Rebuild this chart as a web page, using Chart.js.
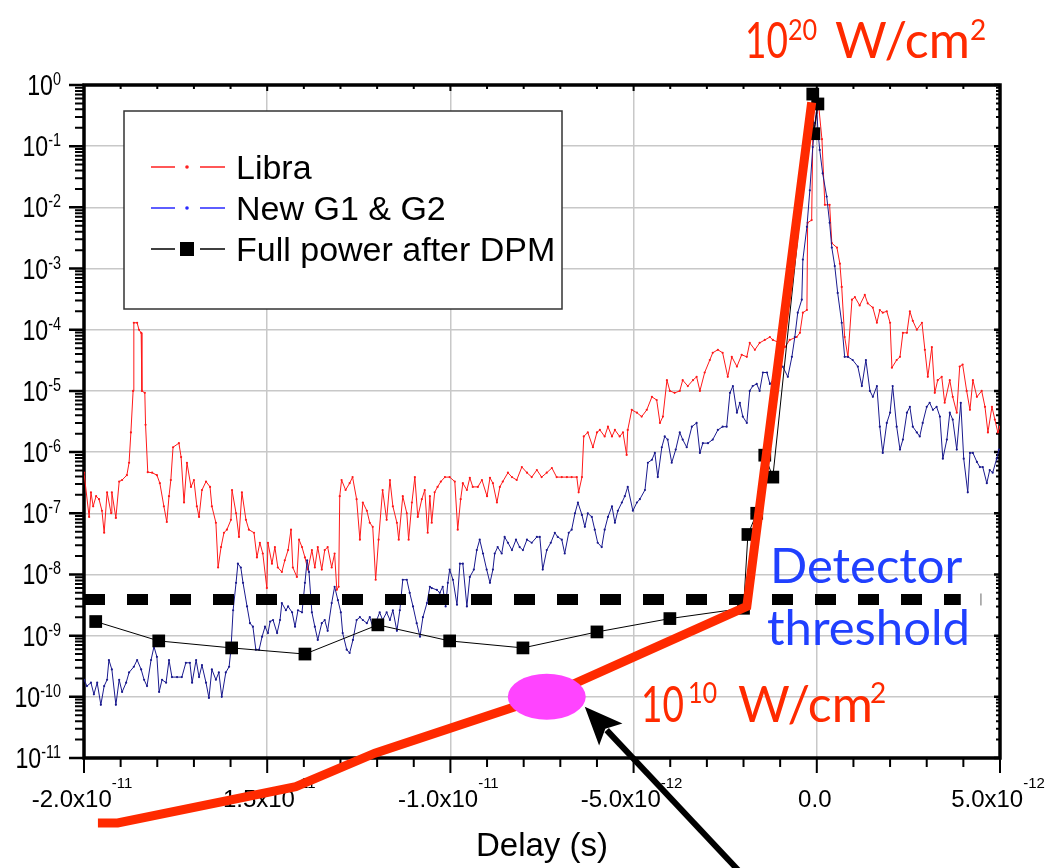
<!DOCTYPE html>
<html>
<head>
<meta charset="utf-8">
<script src="https://cdn.jsdelivr.net/npm/chart.js@4.4.1/dist/chart.umd.min.js"></script>
<style>
  html, body { margin: 0; padding: 0; background: #fff; }
  #wrap { width: 1055px; height: 868px; }
</style>
</head>
<body>
<div id="wrap"><canvas id="delay-chart" width="1055" height="868"></canvas></div>
<script>
// delays are in ps (axis labels show seconds), signals are normalised
var seriesNames = ['Libra', 'New G1 & G2', 'Full power after DPM'];

var libraDelay = [-20.00, -19.86, -19.81, -19.75, -19.67, -19.59, -19.51, -19.45, -19.37, -19.26, -19.24, -19.13, -19.04, -18.96, -18.83, -18.77, -18.72, -18.66, -18.64, -18.55, -18.50, -18.44, -18.42, -18.34, -18.32, -18.26, -18.14, -18.01, -17.93, -17.82, -17.74, -17.68, -17.63, -17.57, -17.41, -17.35, -17.27, -17.19, -17.08, -17.00, -16.92, -16.86, -16.78, -16.67, -16.56, -16.51, -16.40, -16.34, -16.26, -16.18, -16.10, -15.99, -15.96, -15.85, -15.77, -15.69, -15.58, -15.50, -15.36, -15.28, -15.20, -15.12, -15.01, -14.98, -14.87, -14.79, -14.71, -14.60, -14.52, -14.43, -14.35, -14.30, -14.19, -14.13, -14.05, -13.97, -13.89, -13.78, -13.70, -13.62, -13.51, -13.43, -13.35, -13.24, -13.16, -13.10, -13.05, -13.02, -12.97, -12.86, -12.75, -12.67, -12.56, -12.47, -12.39, -12.28, -12.20, -12.12, -12.04, -11.96, -11.85, -11.74, -11.65, -11.57, -11.46, -11.41, -11.30, -11.19, -11.14, -11.05, -10.97, -10.89, -10.78, -10.70, -10.62, -10.56, -10.51, -10.43, -10.35, -10.26, -10.15, -10.02, -9.88, -9.80, -9.72, -9.66, -9.55, -9.47, -9.39, -9.25, -9.14, -9.00, -8.92, -8.84, -8.73, -8.65, -8.57, -8.43, -8.32, -8.19, -8.05, -7.91, -7.78, -7.64, -7.51, -7.37, -7.23, -7.10, -6.96, -6.82, -6.69, -6.55, -6.50, -6.41, -6.36, -6.25, -6.11, -6.00, -5.92, -5.79, -5.70, -5.59, -5.51, -5.38, -5.29, -5.19, -5.16, -5.05, -4.91, -4.78, -4.64, -4.50, -4.37, -4.28, -4.20, -4.09, -4.01, -3.88, -3.74, -3.66, -3.52, -3.38, -3.28, -3.19, -3.06, -2.92, -2.84, -2.70, -2.57, -2.43, -2.32, -2.18, -2.05, -1.91, -1.83, -1.69, -1.56, -1.42, -1.28, -1.20, -1.01, -0.87, -0.74, -0.55, -0.46, -0.38, -0.27, -0.25, -0.14, -0.11, 0.00, 0.05, 0.14, 0.22, 0.35, 0.41, 0.55, 0.63, 0.68, 0.76, 0.85, 0.96, 1.04, 1.17, 1.31, 1.39, 1.53, 1.64, 1.72, 1.80, 1.91, 2.00, 2.05, 2.18, 2.27, 2.35, 2.46, 2.54, 2.62, 2.73, 2.87, 2.95, 3.03, 3.14, 3.22, 3.30, 3.41, 3.49, 3.63, 3.71, 3.82, 3.90, 3.98, 4.09, 4.18, 4.26, 4.37, 4.50, 4.59, 4.67, 4.78, 4.86, 4.94, 5.00];
var libraSignal = [4.6e-7, 8.7e-8, 2.2e-7, 1.3e-7, 1.9e-7, 1.7e-7, 1.1e-7, 4.8e-8, 2.2e-7, 1.0e-7, 2.2e-7, 8.4e-8, 3.3e-7, 3.5e-7, 4.2e-7, 6.7e-7, 2.1e-6, 1.0e-5, 1.3e-4, 1.3e-4, 1.0e-4, 8.9e-5, 1.0e-5, 9.3e-6, 2.8e-6, 4.7e-7, 4.6e-7, 4.2e-7, 3.1e-7, 1.3e-7, 7.2e-8, 1.9e-7, 3.5e-7, 1.2e-6, 1.4e-6, 8.3e-7, 1.5e-7, 6.7e-7, 2.7e-7, 3.5e-7, 1.3e-7, 8.7e-8, 2.4e-7, 3.3e-7, 2.7e-7, 1.3e-7, 7.0e-8, 1.3e-8, 2.8e-8, 4.8e-8, 5.4e-8, 7.8e-8, 2.4e-7, 1.0e-7, 4.1e-8, 2.2e-7, 7.8e-8, 5.4e-8, 4.8e-8, 1.9e-8, 3.3e-8, 2.2e-8, 6.0e-9, 3.3e-8, 1.5e-8, 2.8e-8, 1.3e-8, 1.1e-8, 1.7e-8, 2.5e-8, 5.4e-8, 1.3e-8, 9.1e-9, 3.7e-8, 2.8e-8, 1.9e-8, 1.2e-8, 2.5e-8, 1.3e-8, 2.8e-8, 1.2e-8, 2.5e-8, 2.8e-8, 1.3e-8, 2.2e-8, 5.6e-9, 6.3e-9, 1.9e-7, 3.5e-7, 2.4e-7, 3.1e-7, 3.9e-7, 1.7e-7, 3.7e-8, 1.5e-7, 1.1e-7, 7.0e-8, 6.0e-8, 8.2e-9, 3.7e-8, 2.4e-7, 7.8e-8, 3.5e-7, 1.3e-7, 7.0e-8, 3.7e-8, 1.9e-7, 1.0e-7, 3.7e-8, 1.5e-7, 3.9e-7, 8.7e-8, 1.7e-7, 2.4e-7, 4.8e-8, 1.9e-7, 7.0e-8, 2.2e-7, 2.7e-7, 3.3e-7, 3.9e-7, 3.9e-7, 3.3e-7, 5.4e-8, 1.7e-7, 3.1e-7, 2.4e-7, 3.8e-7, 2.7e-7, 2.7e-7, 3.5e-7, 1.9e-7, 3.8e-7, 3.1e-7, 1.5e-7, 2.7e-7, 3.3e-7, 4.6e-7, 3.9e-7, 3.5e-7, 5.7e-7, 4.6e-7, 3.9e-7, 5.1e-7, 3.9e-7, 4.6e-7, 5.5e-7, 3.9e-7, 3.9e-7, 3.9e-7, 3.9e-7, 3.9e-7, 2.2e-7, 3.9e-7, 1.8e-6, 2.1e-6, 1.2e-6, 2.1e-6, 2.3e-6, 1.8e-6, 2.6e-6, 1.8e-6, 2.3e-6, 1.8e-6, 2.1e-6, 9.0e-7, 2.3e-6, 4.9e-6, 4.4e-6, 3.8e-6, 4.9e-6, 8.0e-6, 7.1e-6, 3.0e-6, 3.8e-6, 1.5e-5, 1.0e-5, 9.3e-6, 1.0e-5, 1.5e-5, 1.2e-5, 1.5e-5, 1.7e-5, 1.0e-5, 2.0e-5, 3.2e-5, 4.2e-5, 4.7e-5, 4.2e-5, 1.7e-5, 3.6e-5, 2.5e-5, 3.9e-5, 3.6e-5, 6.1e-5, 4.7e-5, 6.1e-5, 6.8e-5, 7.6e-5, 6.8e-5, 6.1e-5, 5.2e-5, 6.8e-5, 7.6e-5, 8.9e-5, 1.9e-4, 2.1e-4, 5.6e-3, 6.2e-3, 1.3e-1, 0.35, 0.47, 0.13, 1.1e-2, 1.1e-2, 2.6e-3, 2.2e-3, 1.2e-3, 5.0e-4, 7.6e-5, 3.6e-5, 3.1e-4, 3.4e-4, 2.5e-4, 3.7e-4, 2.7e-4, 2.3e-4, 1.3e-4, 2.1e-4, 1.9e-4, 2.0e-4, 1.3e-4, 2.4e-5, 3.2e-5, 3.6e-5, 8.9e-5, 8.9e-5, 2.0e-4, 1.4e-4, 1.0e-4, 1.3e-4, 4.7e-5, 1.7e-5, 5.2e-5, 9.3e-6, 1.5e-5, 1.7e-5, 6.4e-6, 1.5e-5, 8.0e-6, 4.4e-6, 2.5e-5, 2.7e-5, 1.0e-5, 4.9e-6, 1.5e-5, 8.0e-6, 1.0e-5, 5.5e-6, 2.1e-6, 5.5e-6, 3.4e-6, 2.1e-6, 2.6e-6];

var g12Delay = [-20.00, -19.92, -19.81, -19.73, -19.64, -19.54, -19.45, -19.37, -19.32, -19.24, -19.13, -19.04, -18.96, -18.85, -18.77, -18.64, -18.55, -18.44, -18.36, -18.28, -18.17, -18.09, -18.01, -17.95, -17.87, -17.76, -17.68, -17.60, -17.46, -17.33, -17.22, -17.11, -17.05, -16.94, -16.86, -16.78, -16.67, -16.59, -16.51, -16.40, -16.32, -16.24, -16.13, -16.04, -15.99, -15.93, -15.85, -15.80, -15.72, -15.66, -15.55, -15.47, -15.39, -15.31, -15.22, -15.14, -15.06, -14.98, -14.92, -14.84, -14.73, -14.65, -14.60, -14.49, -14.43, -14.32, -14.24, -14.16, -14.05, -13.97, -13.91, -13.86, -13.78, -13.70, -13.62, -13.51, -13.43, -13.35, -13.24, -13.16, -13.07, -12.99, -12.94, -12.83, -12.75, -12.66, -12.56, -12.47, -12.39, -12.28, -12.20, -12.12, -12.01, -11.93, -11.85, -11.74, -11.65, -11.57, -11.46, -11.38, -11.30, -11.19, -11.11, -11.02, -10.92, -10.83, -10.75, -10.64, -10.56, -10.51, -10.37, -10.29, -10.21, -10.13, -10.07, -10.02, -9.93, -9.82, -9.74, -9.66, -9.55, -9.47, -9.36, -9.28, -9.20, -9.11, -9.01, -8.92, -8.84, -8.79, -8.71, -8.60, -8.52, -8.43, -8.32, -8.21, -8.11, -8.02, -7.91, -7.78, -7.64, -7.56, -7.48, -7.37, -7.26, -7.15, -7.07, -6.96, -6.88, -6.77, -6.69, -6.60, -6.52, -6.41, -6.33, -6.25, -6.14, -6.06, -5.98, -5.87, -5.79, -5.70, -5.59, -5.51, -5.43, -5.32, -5.24, -5.16, -5.02, -4.91, -4.83, -4.69, -4.61, -4.50, -4.42, -4.34, -4.23, -4.15, -4.07, -3.96, -3.85, -3.74, -3.66, -3.55, -3.41, -3.28, -3.19, -3.11, -2.97, -2.84, -2.70, -2.57, -2.46, -2.37, -2.29, -2.18, -2.10, -2.02, -1.91, -1.83, -1.75, -1.64, -1.56, -1.47, -1.36, -1.28, -1.20, -1.06, -0.93, -0.79, -0.68, -0.60, -0.52, -0.41, -0.38, -0.27, -0.19, -0.11, -0.05, 0.00, 0.03, 0.08, 0.16, 0.27, 0.35, 0.41, 0.49, 0.57, 0.68, 0.76, 0.85, 0.98, 1.12, 1.23, 1.34, 1.45, 1.53, 1.64, 1.72, 1.80, 1.91, 2.00, 2.07, 2.18, 2.27, 2.35, 2.46, 2.54, 2.62, 2.73, 2.81, 2.89, 3.00, 3.08, 3.17, 3.27, 3.36, 3.44, 3.55, 3.63, 3.71, 3.82, 3.93, 4.01, 4.12, 4.18, 4.26, 4.37, 4.45, 4.53, 4.64, 4.72, 4.80, 4.91, 4.97];
var g12Signal = [1.9e-10, 1.5e-10, 1.7e-10, 1.1e-10, 1.7e-10, 7.4e-11, 1.5e-10, 1.9e-10, 4.0e-10, 2.8e-10, 7.4e-11, 1.9e-10, 1.2e-10, 1.7e-10, 2.5e-10, 3.1e-10, 4.0e-10, 2.8e-10, 1.9e-10, 1.5e-10, 4.0e-10, 6.6e-10, 4.5e-10, 1.2e-10, 1.9e-10, 1.7e-10, 4.0e-10, 2.1e-10, 2.1e-10, 2.1e-10, 3.6e-10, 3.6e-10, 1.7e-10, 4.0e-10, 2.1e-10, 3.3e-10, 1.7e-10, 9.6e-11, 2.8e-10, 1.9e-10, 2.5e-10, 1.0e-10, 2.5e-10, 3.1e-10, 5.9e-10, 2.6e-9, 7.3e-9, 1.5e-8, 1.3e-8, 7.3e-9, 3.0e-9, 1.6e-9, 1.4e-9, 5.9e-10, 5.9e-10, 9.6e-10, 1.4e-9, 1.1e-9, 1.7e-9, 1.8e-9, 1.1e-9, 1.8e-9, 3.4e-9, 2.6e-9, 3.0e-9, 2.4e-9, 1.4e-9, 2.6e-9, 2.4e-9, 7.3e-9, 1.7e-8, 1.1e-8, 2.4e-9, 1.4e-9, 8.5e-10, 1.6e-9, 1.8e-9, 1.2e-9, 3.4e-9, 6.3e-9, 3.8e-9, 2.4e-9, 1.1e-9, 5.9e-10, 5.2e-10, 8.5e-10, 1.8e-9, 2.0e-9, 1.8e-9, 1.6e-9, 2.0e-9, 1.4e-9, 1.8e-9, 2.4e-9, 1.8e-9, 2.4e-9, 1.8e-9, 2.6e-9, 1.2e-9, 2.6e-9, 8.2e-9, 8.2e-9, 5.0e-9, 3.0e-9, 1.6e-9, 9.6e-10, 2.0e-9, 3.4e-9, 6.3e-9, 6.0e-9, 5.6e-9, 5.0e-9, 6.3e-9, 3.0e-9, 7.3e-9, 1.2e-8, 8.2e-9, 3.2e-9, 1.5e-8, 1.5e-8, 3.0e-9, 9.1e-9, 1.2e-8, 2.5e-8, 3.7e-8, 2.2e-8, 1.2e-8, 7.3e-9, 1.2e-8, 2.2e-8, 2.8e-8, 2.2e-8, 4.1e-8, 3.3e-8, 2.5e-8, 3.7e-8, 2.8e-8, 2.5e-8, 3.7e-8, 3.3e-8, 4.1e-8, 4.1e-8, 1.2e-8, 2.5e-8, 3.3e-8, 4.8e-8, 4.1e-8, 3.7e-8, 2.2e-8, 4.8e-8, 5.4e-8, 1.0e-7, 1.5e-7, 9.4e-8, 6.0e-8, 1.0e-7, 8.7e-8, 5.4e-8, 3.3e-8, 2.8e-8, 5.4e-8, 8.7e-8, 1.3e-7, 7.0e-8, 1.1e-7, 1.5e-7, 1.9e-7, 2.7e-7, 1.1e-7, 1.5e-7, 1.7e-7, 2.4e-7, 6.7e-7, 7.5e-7, 9.7e-7, 3.9e-7, 1.2e-6, 1.8e-6, 1.6e-6, 6.7e-7, 1.1e-6, 2.1e-6, 1.6e-6, 1.2e-6, 2.6e-6, 3.0e-6, 9.7e-7, 1.4e-6, 1.4e-6, 1.6e-6, 2.3e-6, 2.6e-6, 2.6e-6, 9.3e-6, 1.2e-5, 4.4e-6, 6.4e-6, 3.8e-6, 3.0e-6, 1.0e-5, 1.2e-5, 1.3e-5, 1.0e-5, 2.0e-5, 2.0e-5, 1.3e-5, 1.5e-5, 2.2e-5, 2.5e-5, 1.7e-5, 3.6e-5, 7.6e-5, 1.9e-4, 3.1e-4, 1.4e-3, 4.8e-3, 1.9e-2, 9.7e-2, 0.24, 0.42, 0.18, 8.7e-2, 3.6e-2, 1.5e-2, 5.6e-3, 2.2e-3, 1.1e-3, 4.0e-4, 1.3e-4, 3.6e-5, 3.6e-5, 3.2e-5, 2.5e-5, 1.2e-5, 3.2e-5, 1.0e-5, 8.0e-6, 1.2e-5, 2.6e-6, 9.7e-7, 3.0e-6, 4.4e-6, 1.2e-5, 2.6e-6, 1.1e-6, 1.6e-6, 4.4e-6, 5.5e-6, 2.6e-6, 2.1e-6, 1.8e-6, 3.0e-6, 5.5e-6, 6.4e-6, 4.9e-6, 5.5e-6, 3.8e-6, 7.8e-7, 1.6e-6, 4.4e-6, 3.4e-6, 1.1e-6, 6.4e-6, 7.8e-7, 2.2e-7, 9.7e-7, 9.7e-7, 6.9e-7, 5.7e-7, 5.7e-7, 3.1e-7, 5.1e-7, 4.6e-7, 7.8e-7, 1.1e-6];

var dpmDelay = [-19.68, -17.96, -15.97, -13.97, -11.98, -10.02, -8.02, -6.00, -4.01, -2.00, -1.88, -1.64, -1.42, -1.20, -0.11, -0.08, 0.03];
var dpmSignal = [1.7e-9, 8.2e-10, 6.3e-10, 5.0e-10, 1.5e-9, 8.2e-10, 6.3e-10, 1.15e-9, 1.9e-9, 2.8e-9, 4.5e-8, 1.0e-7, 8.9e-7, 3.9e-7, 0.71, 0.16, 0.49];

// thick red guide: intensity on target
var intensityDelay = [-19.62, -19.08, -14.22, -12.06, -7.42, -1.91, -0.14];
var intensityLevel = [8.7e-13, 8.7e-13, 3.4e-12, 1.2e-11, 1.0e-10, 3.0e-9, 0.52];

var thresholdDelay = [-20, 3.93];
var thresholdLevel = [3.9e-9, 3.9e-9];
var thresholdEnd = [4.48, 3.9e-9];

var markDelay = -7.37, markLevel = 1.0e-10;

var yTickValues = [1, 1e-1, 1e-2, 1e-3, 1e-4, 1e-5, 1e-6, 1e-7, 1e-8, 1e-9, 1e-10, 1e-11];
var yTickExps = ['0', '-1', '-2', '-3', '-4', '-5', '-6', '-7', '-8', '-9', '-10', '-11'];
var xTickValues = [-20, -15, -10, -5, 0, 5];
var xTickBases = ['-2.0x10', '-1.5x10', '-1.0x10', '-5.0x10', '0.0', '5.0x10'];
var xTickExps = ['-11', '-11', '-11', '-12', '', '-12'];

function pairs(xs, ys) {
    return xs.map(function (x, i) { return { x: x, y: ys[i] }; });
}

var AXIS_FONT = '"Liberation Sans", Arial, sans-serif';
var NOTE_FONT = 'Lato, "Open Sans", sans-serif';
var RED = '#ff2a00';

function drawPower(ctx, base, exp, x, y, align, st) {
    ctx.font = st.size + 'px ' + AXIS_FONT;
    var w1 = ctx.measureText(base).width * st.sx;
    ctx.font = st.supSize + 'px ' + AXIS_FONT;
    var w2 = exp ? ctx.measureText(exp).width * st.sx : 0;
    var left = align === 'right' ? x - w1 - w2 : x - (w1 + w2) / 2;
    ctx.save();
    ctx.translate(left, y + st.baseDy);
    ctx.scale(st.sx, 1);
    ctx.font = st.size + 'px ' + AXIS_FONT;
    ctx.fillText(base, 0, 0);
    ctx.restore();
    if (exp) {
        ctx.save();
        ctx.translate(left + w1, y + st.supDy);
        ctx.scale(st.sx, 1);
        ctx.font = st.supSize + 'px ' + AXIS_FONT;
        ctx.fillText(exp, 0, 0);
        ctx.restore();
    }
}

function drawNote(ctx, pieces, color) {
    ctx.fillStyle = color;
    pieces.forEach(function (p) {
        ctx.save();
        ctx.translate(p.x, p.y);
        ctx.scale(p.sx || 1, 1);
        ctx.font = p.size + 'px ' + NOTE_FONT;
        ctx.fillText(p.t, 0, 0);
        ctx.restore();
    });
}

var figureDecor = {
    id: 'figureDecor',
    beforeDatasetsDraw: function (chart) {
        var ctx = chart.ctx, a = chart.chartArea;
        var xs = chart.scales.x, ys = chart.scales.y;
        ctx.save();
        ctx.strokeStyle = '#000';
        ctx.fillStyle = '#000';
        ctx.textAlign = 'left';
        ctx.textBaseline = 'alphabetic';

        // bottom ticks (out) and top ticks (in)
        for (var v = -20; v <= 5; v++) {
            var px = xs.getPixelForValue(v);
            var major = v % 5 === 0;
            ctx.lineWidth = 2;
            ctx.beginPath();
            ctx.moveTo(px, a.bottom);
            ctx.lineTo(px, a.bottom + (major ? 15 : 9));
            ctx.moveTo(px, a.top);
            ctx.lineTo(px, a.top + (major ? 6 : 4));
            ctx.stroke();
        }
        // left ticks (out) and right ticks (in)
        yTickValues.forEach(function (d, i) {
            var py = ys.getPixelForValue(d);
            ctx.lineWidth = 2.5;
            ctx.beginPath();
            ctx.moveTo(a.left, py);
            ctx.lineTo(a.left - 15, py);
            ctx.moveTo(a.right, py);
            ctx.lineTo(a.right - 6, py);
            ctx.stroke();
            if (i === yTickValues.length - 1) return;
            ctx.lineWidth = 2;
            for (var k = 2; k <= 9; k++) {
                var mp = ys.getPixelForValue(k * d / 10);
                ctx.beginPath();
                ctx.moveTo(a.left, mp);
                ctx.lineTo(a.left - 9, mp);
                ctx.moveTo(a.right, mp);
                ctx.lineTo(a.right - 4, mp);
                ctx.stroke();
            }
        });

        // frame
        ctx.lineWidth = 3.5;
        ctx.strokeRect(a.left, a.top, a.right - a.left, a.bottom - a.top);

        // tick labels
        var yStyle = { size: 29, supSize: 18, sx: 0.8, baseDy: 10, supDy: 0 };
        yTickValues.forEach(function (d, i) {
            drawPower(ctx, '10', yTickExps[i], a.left - 23, ys.getPixelForValue(d), 'right', yStyle);
        });
        var xStyle = { size: 24, supSize: 15, sx: 1, baseDy: 49, supDy: 30 };
        xTickValues.forEach(function (d, i) {
            drawPower(ctx, xTickBases[i], xTickExps[i], xs.getPixelForValue(d) - 2, a.bottom, 'center', xStyle);
        });

        // axis title
        ctx.font = '33px ' + AXIS_FONT;
        ctx.textAlign = 'center';
        ctx.fillText('Delay (s)', (a.left + a.right) / 2, a.bottom + 98);
        ctx.restore();
    },
    afterDatasetsDraw: function (chart) {
        var ctx = chart.ctx;
        var xs = chart.scales.x, ys = chart.scales.y;
        ctx.save();

        // marked point on the intensity line
        var cx = xs.getPixelForValue(markDelay), cy = ys.getPixelForValue(markLevel);
        ctx.fillStyle = '#ff44ff';
        ctx.beginPath();
        ctx.ellipse(cx, cy, 39, 23, 0, 0, Math.PI * 2);
        ctx.fill();

        // arrow pointing at it
        var tipX = cx + 38, tipY = cy + 10;
        var tailX = tipX + 155, tailY = tipY + 165;
        var len = Math.hypot(tailX - tipX, tailY - tipY);
        var ux = (tipX - tailX) / len, uy = (tipY - tailY) / len;
        var bx = tipX - ux * 38, by = tipY - uy * 38;
        ctx.strokeStyle = '#000';
        ctx.lineWidth = 6;
        ctx.beginPath();
        ctx.moveTo(tailX, tailY);
        ctx.lineTo(bx + ux * 6, by + uy * 6);
        ctx.stroke();
        ctx.fillStyle = '#000';
        ctx.beginPath();
        ctx.moveTo(tipX, tipY);
        ctx.lineTo(bx - uy * 16, by + ux * 16);
        ctx.lineTo(bx + ux * 8, by + uy * 8);
        ctx.lineTo(bx + uy * 16, by - ux * 16);
        ctx.closePath();
        ctx.fill();

        // legend
        var box = { x: 124, y: 111, w: 438, h: 198 };
        ctx.fillStyle = '#fff';
        ctx.fillRect(box.x, box.y, box.w, box.h);
        ctx.strokeStyle = '#333';
        ctx.lineWidth = 1.5;
        ctx.strokeRect(box.x, box.y, box.w, box.h);
        var legendColors = ['#ff2020', '#2a2aff', '#000'];
        seriesNames.forEach(function (name, i) {
            var ly = box.y + 56 + i * 41;
            ctx.strokeStyle = legendColors[i];
            ctx.lineWidth = 1.3;
            ctx.beginPath();
            ctx.moveTo(box.x + 27, ly);
            ctx.lineTo(box.x + 51, ly);
            ctx.moveTo(box.x + 76, ly);
            ctx.lineTo(box.x + 101, ly);
            ctx.stroke();
            ctx.fillStyle = legendColors[i];
            if (i < 2) {
                ctx.beginPath();
                ctx.arc(box.x + 63, ly, 1.8, 0, Math.PI * 2);
                ctx.fill();
            } else {
                ctx.fillRect(box.x + 56, ly - 7, 14, 14);
            }
            ctx.fillStyle = '#000';
            ctx.font = '34px ' + AXIS_FONT;
            ctx.textAlign = 'left';
            ctx.fillText(name, box.x + 112, ly + 12);
        });

        // annotations
        ctx.textAlign = 'left';
        ctx.textBaseline = 'alphabetic';
        drawNote(ctx, [
            { t: '10', x: 745, y: 58, size: 50, sx: 0.74 },
            { t: '20', x: 788, y: 40, size: 28, sx: 0.9 },
            { t: 'W/cm', x: 835, y: 58, size: 50 },
            { t: '2', x: 970, y: 40, size: 28 }
        ], RED);
        drawNote(ctx, [
            { t: '10', x: 641, y: 722, size: 50, sx: 0.74 },
            { t: '10', x: 688, y: 703, size: 28, sx: 0.9 },
            { t: 'W/cm', x: 738, y: 722, size: 50 },
            { t: '2', x: 870, y: 703, size: 28 }
        ], RED);
        drawNote(ctx, [
            { t: 'Detector', x: 770, y: 583, size: 49 },
            { t: 'threshold', x: 767, y: 645, size: 49 }
        ], '#2040ff');
        ctx.restore();
    }
};

var datasets = [
    {
        label: 'intensity',
        data: pairs(intensityDelay, intensityLevel),
        borderColor: RED,
        borderWidth: 9,
        borderCapStyle: 'butt',
        borderJoinStyle: 'miter',
        pointRadius: 0,
        clip: false,
        order: 1
    },
    {
        label: seriesNames[2],
        data: pairs(dpmDelay, dpmSignal),
        borderColor: '#000',
        borderWidth: 1,
        pointStyle: 'rect',
        pointRadius: 9,
        pointBackgroundColor: '#000',
        pointBorderWidth: 0,
        order: 2
    },
    {
        label: 'threshold',
        data: pairs(thresholdDelay, thresholdLevel),
        borderColor: '#000',
        borderWidth: 11,
        borderDash: [21, 22],
        borderCapStyle: 'butt',
        pointRadius: 0,
        order: 3
    },
    {
        label: 'threshold end',
        data: [{ x: thresholdEnd[0], y: thresholdEnd[1] }],
        showLine: false,
        pointStyle: 'line',
        rotation: 90,
        pointRadius: 6,
        borderColor: '#666',
        pointBorderWidth: 1,
        order: 3
    },
    {
        label: seriesNames[1],
        data: pairs(g12Delay, g12Signal),
        borderColor: '#1a1a8e',
        backgroundColor: '#1a1a8e',
        borderWidth: 1,
        pointRadius: 1.1,
        pointBorderWidth: 0,
        order: 4
    },
    {
        label: seriesNames[0],
        data: pairs(libraDelay, libraSignal),
        borderColor: '#ff1a1a',
        backgroundColor: '#ff1a1a',
        borderWidth: 1,
        pointRadius: 1.1,
        pointBorderWidth: 0,
        order: 5
    }
];

var gridStyle = { color: '#c8c8c8', lineWidth: 1.5, drawTicks: false };

var layout = {
    type: 'line',
    data: { datasets: datasets },
    options: {
        responsive: false,
        animation: false,
        devicePixelRatio: 1,
        layout: { padding: { left: 84, right: 55, top: 85, bottom: 110 } },
        elements: { line: { tension: 0 } },
        plugins: {
            legend: { display: false },
            tooltip: { enabled: false }
        },
        scales: {
            x: {
                type: 'linear',
                min: -20,
                max: 5,
                ticks: { display: false, stepSize: 5 },
                grid: gridStyle,
                border: { display: false }
            },
            y: {
                type: 'logarithmic',
                min: 1e-11,
                max: 1,
                ticks: { display: false },
                grid: gridStyle,
                border: { display: false },
                afterBuildTicks: function (scale) {
                    scale.ticks = yTickValues.map(function (v) { return { value: v }; });
                }
            }
        }
    },
    plugins: [figureDecor]
};

new Chart(document.getElementById('delay-chart'), layout);
</script>
</body>
</html>
